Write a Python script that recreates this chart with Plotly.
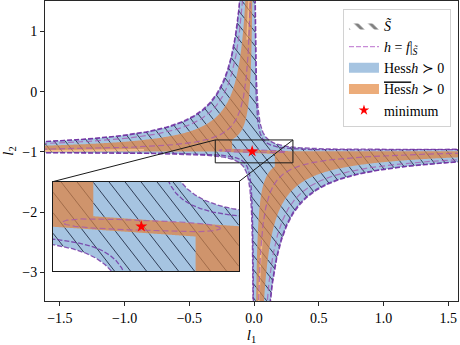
import numpy as np
import plotly.graph_objects as go

# ---------------------------------------------------------------- axes
X_RANGE = [-1.615, 1.575]
Y_RANGE = [-3.475, 1.508]
X_TICKS = [-1.5, -1.0, -0.5, 0.0, 0.5, 1.0, 1.5]
Y_TICKS = [-3, -2, -1, 0, 1]
ZOOM_X = [-0.30, 0.30]
ZOOM_Y = [-1.18, -0.80]
INSET_X = [0.0194, 0.4697]      # inset axes domain (fraction of main axes)
INSET_Y = [0.0987, 0.398]

# ---------------------------------------------------------------- minimiser
MIN_L1 = [-0.015]
MIN_L2 = [-0.99]

# ---------------------------------------------------------------- level-set model
# F(l1, l2) = l1 * (l2 + 1 - shear * max(l1, 0)) * gain(l1)
S_BOUNDS = [-0.28, 0.02]          # S~ = {lo <= F <= hi}
SHEAR = 0.02
RIGHT_GAIN = 0.9
HESS_BAND = [-0.17, -0.035]       # curvature band of the relaxed Hessian
CORE_EDGES = [-0.17, 0.16]        # beyond these l1 the relaxed region fills the core
CORE_TOP = -0.962
CORE_BOTTOM = -1.018
CORE_TILT = 0.09
CORE_CLIP = 0.30
EDGE_LEVELS = [-0.28, -0.273, 0.02, 0.013]
INNER_LEVELS = [-0.225, -0.075]
LOOP = dict(c1=-0.015, c2=-0.985, a=0.255, b=0.021, tilt=-0.05)
# curves where only the relaxed Hessian is definite: (level, l1 window, l2 window)
DEGENERATE = [
    (-0.10, [-0.2, 0.0], [0.85, 1.6]),
    (-0.08, [0.0, 0.2], [-3.6, -2.45]),
    (-0.03, [-1.7, -0.85], [-1.2, -0.8]),
]

# ---------------------------------------------------------------- styling
BLUE = "rgb(166,196,225)"
BROWN = "rgb(207,148,108)"
LIGHT_ORANGE = "rgba(245,190,140,0.95)"
LEG_ORANGE = "rgb(236,172,122)"
DARK_HATCH = "rgba(20,30,55,0.9)"
WARM_HATCH = "rgba(120,72,45,0.75)"
EDGE_PURPLE = "rgba(110,45,160,0.8)"
INNER_PURPLE = "rgba(165,85,175,0.75)"
FONT = "Liberation Serif"
HATCH_SLOPE = 1.3

W, H = 460, 345
M_L, M_R, M_T, M_B = 45, 2, 0, 41
PW, PH = W - M_L - M_R, H - M_T - M_B


def F(l1, l2):
    v = l2 + 1.0
    gain = np.where(l1 > 0, RIGHT_GAIN, 1.0)
    return l1 * (v - SHEAR * np.maximum(l1, 0.0)) * gain


def s_member(l1, l2):
    f = F(l1, l2)
    return np.minimum(f - S_BOUNDS[0], S_BOUNDS[1] - f)


def core_top(l1):
    return CORE_TOP - CORE_TILT * np.clip(l1, -CORE_CLIP, CORE_CLIP)


def core_bottom(l1):
    return CORE_BOTTOM - CORE_TILT * np.clip(l1, -CORE_CLIP, CORE_CLIP)


def warm_member(l1, l2):
    f = F(l1, l2)
    band = np.minimum(f - HESS_BAND[0], HESS_BAND[1] - f)
    top, bot = core_top(l1), core_bottom(l1)
    core = 0.3 * np.minimum(l2 - bot, top - l2)
    left = np.minimum.reduce([0.3 * (CORE_EDGES[0] - l1), 0.3 * (l2 - bot), f - HESS_BAND[0]])
    right = np.minimum.reduce([0.3 * (l1 - CORE_EDGES[1]), 0.3 * (top - l2), f - HESS_BAND[0]])
    m = np.maximum.reduce([band, core, left, right])
    return np.minimum(m, s_member(l1, l2))


def grid(xs_parts, ys_parts):
    xs = np.unique(np.concatenate([np.linspace(a, b, n) for a, b, n in xs_parts]))
    ys = np.unique(np.concatenate([np.linspace(a, b, n) for a, b, n in ys_parts]))
    X, Y = np.meshgrid(xs, ys)
    return xs, ys, X, Y


def level_curve(c, xr, yr):
    """Branches of F = c inside the window, separated by gaps."""
    xs, ys = [], []
    u_neg = -np.geomspace(1.8, 2e-3, 700)
    v_neg = c / u_neg
    u_pos = np.geomspace(2e-3, 1.8, 700)
    v_pos = c / (RIGHT_GAIN * u_pos) + SHEAR * u_pos
    for u, v in ((u_neg, v_neg), (u_pos, v_pos)):
        l2 = v - 1.0
        keep = (l2 > yr[0] - 0.3) & (l2 < yr[1] + 0.3) & (u > xr[0] - 0.1) & (u < xr[1] + 0.1)
        if keep.sum() > 1:
            xs += list(np.round(u[keep], 5)) + [None]
            ys += list(np.round(l2[keep], 5)) + [None]
    return xs, ys


def loop_curve():
    t = np.linspace(0, 2 * np.pi, 300)
    x = LOOP["a"] * np.sign(np.cos(t)) * np.abs(np.cos(t)) ** 0.5
    y = LOOP["b"] * np.sin(t)
    return list(LOOP["c1"] + x), list(LOOP["c2"] + y + LOOP["tilt"] * x)


def hatch(xr, yr, dom_x, dom_y, spacing):
    width = (dom_x[1] - dom_x[0]) * PW
    height = (dom_y[1] - dom_y[0]) * PH
    off_x = M_L + dom_x[0] * PW
    off_y = M_T + (1 - dom_y[1]) * PH
    out = {"dark": ([], []), "warm": ([], [])}
    # lines py = slope * px + c in page pixels
    step = spacing * HATCH_SLOPE
    lo_c = off_y - HATCH_SLOPE * (off_x + width)
    hi_c = off_y + height - HATCH_SLOPE * off_x
    first = np.floor(lo_c / step) * step
    for c in np.arange(first, hi_c + step, step):
        px = np.arange(off_x, off_x + width, 0.3)
        py = HATCH_SLOPE * px + c
        ok = (py >= off_y) & (py <= off_y + height)
        if ok.sum() < 2:
            continue
        px, py = px[ok], py[ok]
        l1 = xr[0] + (px - off_x) / width * (xr[1] - xr[0])
        l2 = yr[1] - (py - off_y) / height * (yr[1] - yr[0])
        inside = s_member(l1, l2) >= 0
        warm = warm_member(l1, l2) >= 0
        for key, mask in (("dark", inside & ~warm), ("warm", inside & warm)):
            edges = np.flatnonzero(np.diff(np.concatenate([[0], mask.astype(int), [0]])))
            for a, b in zip(edges[::2], edges[1::2]):
                out[key][0].extend([round(l1[a], 5), round(l1[b - 1], 5), None])
                out[key][1].extend([round(l2[a], 5), round(l2[b - 1], 5), None])
    return out


fig = go.Figure()


def dashed(xa, ya, x, y, color, width, dash):
    fig.add_trace(go.Scatter(x=x, y=y, mode="lines", line=dict(color=color, width=width, dash=dash),
                             xaxis=xa, yaxis=ya, hoverinfo="skip", showlegend=False))


def add_panel(xa, ya, xr, yr, xs_parts, ys_parts, dom_x, dom_y, spacing):
    xs, ys, X, Y = grid(xs_parts, ys_parts)
    common = dict(xaxis=xa, yaxis=ya, hoverinfo="skip", showlegend=False, showscale=False)
    # constraint contours shade the region that fails the test, so the tests are inverted
    fig.add_trace(go.Contour(x=np.round(xs, 5), y=np.round(ys, 5), z=np.round(F(X, Y), 5),
                             contours=dict(type="constraint", operation="][", value=S_BOUNDS),
                             fillcolor=BLUE, line=dict(width=0), **common))
    fig.add_trace(go.Contour(x=np.round(xs, 5), y=np.round(ys, 5), z=np.round(warm_member(X, Y), 5),
                             contours=dict(type="constraint", operation="<", value=0),
                             fillcolor=BROWN, line=dict(width=0), **common))
    for lev, wx, wy in DEGENERATE:
        cx, cy = level_curve(lev, wx, wy)
        px = [a if a is None or (wx[0] <= a <= wx[1] and wy[0] <= b <= wy[1]) else None
              for a, b in zip(cx, cy)]
        fig.add_trace(go.Scatter(x=px, y=cy, mode="lines", connectgaps=False,
                                 line=dict(color=LIGHT_ORANGE, width=1.6),
                                 xaxis=xa, yaxis=ya, hoverinfo="skip", showlegend=False))
    h = hatch(xr, yr, dom_x, dom_y, spacing)
    fig.add_trace(go.Scatter(x=h["dark"][0], y=h["dark"][1], mode="lines",
                             line=dict(color=DARK_HATCH, width=0.9),
                             xaxis=xa, yaxis=ya, hoverinfo="skip", showlegend=False))
    fig.add_trace(go.Scatter(x=h["warm"][0], y=h["warm"][1], mode="lines",
                             line=dict(color=WARM_HATCH, width=0.7),
                             xaxis=xa, yaxis=ya, hoverinfo="skip", showlegend=False))
    for lev in INNER_LEVELS:
        cx, cy = level_curve(lev, xr, yr)
        dashed(xa, ya, cx, cy, INNER_PURPLE, 1.2, "6px,3px")
    lx, ly = loop_curve()
    dashed(xa, ya, lx, ly, INNER_PURPLE, 1.2, "6px,3px")
    for lev in EDGE_LEVELS:
        cx, cy = level_curve(lev, xr, yr)
        dashed(xa, ya, cx, cy, EDGE_PURPLE, 1.3, "5px,2px")
    fig.add_trace(go.Scatter(x=MIN_L1, y=MIN_L2, mode="markers",
                             marker=dict(symbol="star", size=9, color="red", line=dict(width=0)),
                             xaxis=xa, yaxis=ya, hoverinfo="skip", showlegend=False))


add_panel("x", "y", X_RANGE, Y_RANGE,
          [(X_RANGE[0] - 0.01, -0.45, 110), (-0.45, 0.45, 260), (0.45, X_RANGE[1] + 0.01, 110)],
          [(Y_RANGE[0] - 0.01, -1.6, 90), (-1.6, -0.4, 230), (-0.4, Y_RANGE[1] + 0.01, 90)],
          [0, 1], [0, 1], 11)
add_panel("x2", "y2", ZOOM_X, ZOOM_Y,
          [(ZOOM_X[0] - 0.01, ZOOM_X[1] + 0.01, 260)],
          [(ZOOM_Y[0] - 0.01, ZOOM_Y[1] + 0.01, 170)],
          INSET_X, INSET_Y, 16)

# legend entries
leg = dict(x=[None], y=[None], xaxis="x", yaxis="y", hoverinfo="skip")
fig.add_trace(go.Scatter(name="<i>S\u0303</i>", mode="lines", fill="toself",
                         fillcolor="rgba(0,0,0,0)", line=dict(width=0),
                         fillpattern=dict(shape="\\", fgcolor="black", bgcolor="rgba(0,0,0,0)",
                                          size=10, solidity=0.3),
                         legendgroup="a", **leg))
fig.add_trace(go.Scatter(name="<i>h</i> = <i>f</i>|<sub><i>S\u0303</i></sub>", mode="lines",
                         line=dict(color="rgb(200,140,215)", width=1.3, dash="5px,2px"),
                         legendgroup="b", **leg))
fig.add_trace(go.Scatter(name="Hess<i>h</i> \u227b 0", mode="lines",
                         line=dict(color=BLUE, width=11), legendgroup="c", **leg))
fig.add_trace(go.Scatter(name='<span style="text-decoration:overline">Hess</span><i>h</i> \u227b 0',
                         mode="lines", line=dict(color=LEG_ORANGE, width=11),
                         legendgroup="d", **leg))
fig.add_trace(go.Scatter(name="minimum", mode="markers",
                         marker=dict(symbol="star", size=8, color="red"),
                         legendgroup="e", **leg))


def xd(p):
    return X_RANGE[0] + p * (X_RANGE[1] - X_RANGE[0])


def yd(p):
    return Y_RANGE[0] + p * (Y_RANGE[1] - Y_RANGE[0])


line_style = dict(color="rgb(25,25,25)", width=1)
shapes = [
    dict(type="rect", xref="x", yref="y", x0=ZOOM_X[0], x1=ZOOM_X[1], y0=ZOOM_Y[0], y1=ZOOM_Y[1],
         line=line_style),
    dict(type="line", xref="x", yref="y", x0=ZOOM_X[0], y0=ZOOM_Y[1],
         x1=xd(INSET_X[0]), y1=yd(INSET_Y[1]), line=line_style),
    dict(type="line", xref="x", yref="y", x0=ZOOM_X[1], y0=ZOOM_Y[1],
         x1=xd(INSET_X[1]), y1=yd(INSET_Y[1]), line=line_style),
]


def fmt(v):
    s = f"{v:.1f}" if isinstance(v, float) else f"{v}"
    return s.replace("-", "\u2212")


axis_common = dict(showgrid=False, zeroline=False, showline=True, linecolor="rgb(40,40,40)",
                   linewidth=1, mirror=True, ticks="outside", ticklen=4, tickwidth=1,
                   tickcolor="rgb(40,40,40)", tickfont=dict(family=FONT, size=14, color="black"))

fig.update_layout(
    width=W, height=H, margin=dict(l=M_L, r=M_R, t=M_T, b=M_B),
    paper_bgcolor="white", plot_bgcolor="white",
    font=dict(family=FONT, size=14, color="black"),
    xaxis=dict(domain=[0, 1], range=X_RANGE, tickvals=X_TICKS, ticktext=[fmt(v) for v in X_TICKS],
               title=dict(text="<i>l</i><sub>1</sub>", standoff=9, font=dict(size=15)), **axis_common),
    yaxis=dict(domain=[0, 1], range=Y_RANGE, tickvals=Y_TICKS, ticktext=[fmt(v) for v in Y_TICKS],
               title=dict(text="<i>l</i><sub>2</sub>", standoff=6, font=dict(size=15)), **axis_common),
    xaxis2=dict(domain=INSET_X, range=ZOOM_X, anchor="y2", showgrid=False, zeroline=False,
                showline=True, mirror=True, linecolor="rgb(25,25,25)", linewidth=1,
                showticklabels=False, ticks=""),
    yaxis2=dict(domain=INSET_Y, range=ZOOM_Y, anchor="x2", showgrid=False, zeroline=False,
                showline=True, mirror=True, linecolor="rgb(25,25,25)", linewidth=1,
                showticklabels=False, ticks=""),
    legend=dict(x=0.983, y=0.974, xanchor="right", yanchor="top",
                bgcolor="rgba(255,255,255,0.85)", bordercolor="rgb(210,210,210)", borderwidth=1,
                font=dict(family=FONT, size=14), tracegroupgap=0, itemwidth=30,
                traceorder="grouped"),
    shapes=shapes,
)

fig.write_html("out.html")
